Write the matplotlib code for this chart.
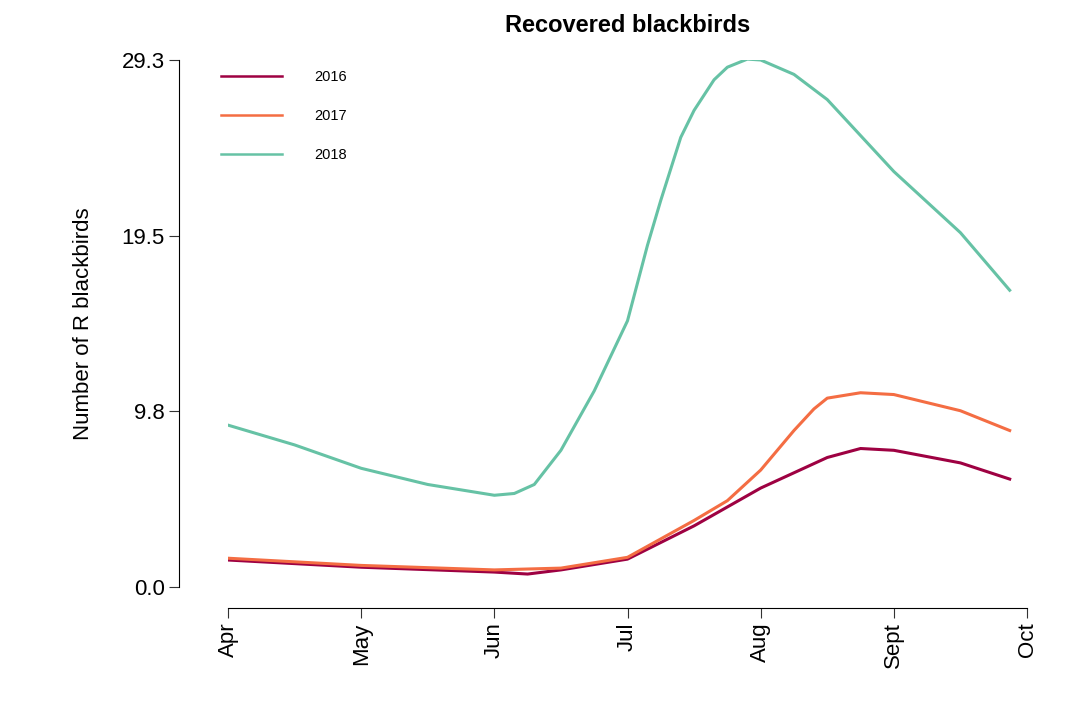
import matplotlib.pyplot as plt

plt.rcParams['font.family'] = ['Liberation Sans', 'DejaVu Sans']

months = ['Apr', 'May', 'Jun', 'Jul', 'Aug', 'Sept', 'Oct']

# x in months since April 1
x2018 = [0, 0.5, 1, 1.5, 2, 2.15, 2.3, 2.5, 2.75, 3, 3.15, 3.25, 3.4, 3.5, 3.65, 3.75, 3.9, 4, 4.25, 4.5, 5, 5.5, 5.87]
y2018 = [9.0, 7.9, 6.6, 5.7, 5.1, 5.2, 5.7, 7.6, 10.9, 14.8, 19.0, 21.5, 25.0, 26.5, 28.2, 28.9, 29.35, 29.3, 28.5, 27.1, 23.1, 19.7, 16.5]
x2016 = [0, 1, 2, 2.25, 2.5, 3, 3.5, 4, 4.5, 4.75, 5, 5.5, 5.87]
y2016 = [1.5, 1.1, 0.83, 0.72, 0.95, 1.55, 3.4, 5.5, 7.2, 7.7, 7.6, 6.9, 6.0]
x2017 = [0, 1, 2, 2.5, 3, 3.5, 3.75, 4, 4.25, 4.4, 4.5, 4.75, 5, 5.5, 5.87]
y2017 = [1.6, 1.2, 0.95, 1.05, 1.65, 3.7, 4.8, 6.5, 8.7, 9.9, 10.5, 10.8, 10.7, 9.8, 8.7]

fig = plt.figure(figsize=(10.8, 7.05), dpi=100)
ax = fig.add_axes([228 / 1080, 1 - 587 / 705, 799 / 1080, 527 / 705])

ax.plot(x2016, y2016, color='#9e0142', lw=2.2, label='2016')
ax.plot(x2017, y2017, color='#f46d43', lw=2.2, label='2017')
ax.plot(x2018, y2018, color='#66c2a5', lw=2.2, label='2018')

ax.set_xlim(0, 6)
ax.set_ylim(0, 29.3)
ax.set_xticks(range(7), months)
ax.set_yticks([0, 9.8, 19.5, 29.3], ['0.0', '9.8', '19.5', '29.3'])
ax.tick_params(axis='both', labelsize=16, length=7, color='#333333')
ax.tick_params(axis='x', labelrotation=90)
for s in ['top', 'right']:
    ax.spines[s].set_visible(False)
ax.spines['left'].set_position(('outward', 35))
ax.spines['bottom'].set_position(('outward', 15))
ax.spines['left'].set_bounds(0, 29.3)
ax.spines['bottom'].set_bounds(0, 6)

ax.set_ylabel('Number of R blackbirds', fontsize=16, labelpad=20)
ax.set_title('Recovered blackbirds', fontsize=17, fontweight='bold', pad=20)

leg = ax.legend(loc='upper left', bbox_to_anchor=(-0.025, 1.005), frameon=False,
                fontsize=10.5, handlelength=4.2, handletextpad=2.2, labelspacing=1.7)
for line in leg.get_lines():
    line.set_linewidth(1.8)

fig.savefig('out.png', dpi=100)
